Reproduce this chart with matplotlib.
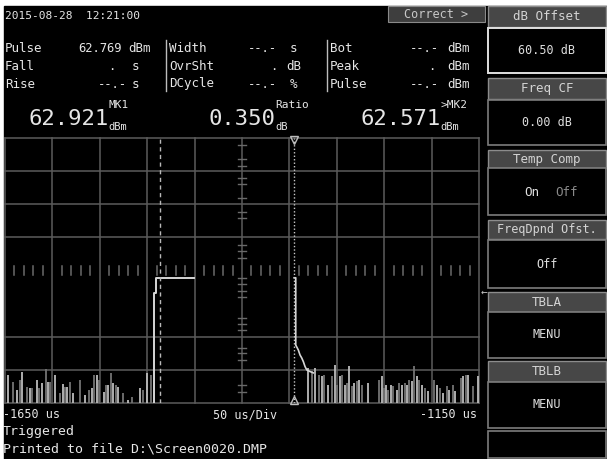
import matplotlib
matplotlib.use("Agg")
import matplotlib.pyplot as plt
from matplotlib.patches import Rectangle

# time axis (us) and vertical scale in divisions (0 = bottom, 8 = top)
x_start, x_end = -1650, -1150
us_per_div = 50

# noise floor before the pulse: bar position (us) and peak height (div)
noise_left_x = [-1646.5, -1641.9, -1637.0, -1634.2, -1631.8, -1626.5, -1623.6, -1621.2,
                -1616.6, -1613.8, -1611.3, -1607.1, -1605.0, -1602.5, -1597.3, -1592.0,
                -1589.1, -1586.7, -1584.3, -1581.4, -1578.6, -1570.9, -1565.6, -1561.1,
                -1558.5, -1555.8, -1553.3, -1550.5, -1545.6, -1543.5, -1541.0, -1538.2,
                -1535.8, -1532.9, -1530.5, -1525.8, -1519.9, -1516.3, -1507.6, -1504.7,
                -1499.9, -1495.5]
noise_left_h = [0.85, 0.64, 0.39, 0.69, 0.95, 0.49, 0.44, 0.44,
                0.69, 0.44, 0.59, 1.02, 0.64, 0.64, 0.85, 0.29,
                0.57, 0.49, 0.49, 0.64, 0.29, 0.69, 0.24, 0.39,
                0.44, 0.85, 0.85, 0.69, 0.34, 0.54, 0.54, 0.92,
                0.59, 0.54, 0.49, 0.31, 0.09, 0.19, 0.44, 0.39,
                0.90, 0.85]

# noise floor after the pulse
noise_right_x = [-1330.1, -1326.5, -1323.0, -1318.4, -1315.9, -1313.2, -1308.9, -1305.4,
                 -1301.9, -1299.5, -1296.6, -1294.8, -1291.3, -1289.5, -1286.8, -1284.3,
                 -1281.8, -1279.0, -1276.2, -1273.7, -1266.8, -1255.1, -1252.6, -1250.2,
                 -1248.1, -1245.7, -1243.1, -1240.4, -1236.8, -1234.1, -1231.5, -1228.0,
                 -1226.3, -1223.5, -1221.0, -1218.2, -1215.7, -1213.0, -1210.4, -1206.9,
                 -1203.5, -1197.1, -1194.6, -1191.1, -1187.6, -1184.1, -1181.3, -1177.7,
                 -1175.3, -1169.3, -1166.5, -1163.7, -1161.3, -1156.0, -1150.7]
noise_right_h = [1.06, 0.96, 1.06, 0.86, 0.81, 0.86, 0.55, 0.81,
                 1.16, 0.55, 0.81, 0.86, 0.55, 0.60, 1.11, 0.50,
                 0.60, 0.65, 0.70, 0.55, 0.60, 0.70, 0.81, 0.45,
                 0.55, 0.40, 0.55, 0.50, 0.40, 0.60, 0.55, 0.60,
                 0.55, 0.70, 0.65, 1.11, 0.81, 0.70, 0.55, 0.45,
                 0.35, 0.70, 0.55, 0.45, 0.30, 0.50, 0.40, 0.55,
                 0.35, 0.75, 0.81, 0.86, 0.86, 0.50, 0.81]

# pulse rising edge + top, and falling edge with its decay tail
rise_x = [-1492.5, -1492.5, -1490.7, -1490.7, -1450.3]
rise_y = [0.0, 3.32, 3.32, 3.78, 3.78]
fall_x = [-1345.0, -1343.3, -1343.3, -1340.6, -1338.8, -1337.0, -1335.3, -1333.5,
          -1331.7, -1328.3, -1324.8]
fall_y = [3.78, 3.78, 1.75, 1.60, 1.45, 1.36, 1.25, 1.10, 1.00, 0.95, 0.91]

mk1_x = -1486.5
mk2_x = -1345.0

# minor ticks on the centre vertical axis (div)
center_ticks = [7.79, 7.37, 7.16, 6.80, 6.62, 6.19, 5.77, 5.59, 4.77, 4.59, 4.38,
                3.78, 3.60, 3.38, 3.20, 2.57, 2.39, 2.21, 1.66, 1.51, 1.30, 0.54, 0.33]
grid_rows = [0, 1, 2, 5, 6, 7, 8]

MONO = "DejaVu Sans Mono"
FG = "#e6e6e6"
GRID = "#5c5c5c"

fig = plt.figure(figsize=(6.07, 4.59), dpi=100, facecolor="white")

# screen layer in pixel coordinates
ui = fig.add_axes([0, 0, 1, 1])
ui.set_xlim(0, 607)
ui.set_ylim(459, 0)
ui.axis("off")
ui.add_patch(Rectangle((4, 6), 603, 453, color="black", zorder=0))


def txt(x, y, s, size=9, color=FG, ha="left", **kw):
    ui.text(x, y, s, fontsize=size, color=color, ha=ha, va="center",
            fontfamily=MONO, **kw)


def box(x0, y0, x1, y1, fill="black", edge="#7c7c7c", lw=1.2):
    ui.add_patch(Rectangle((x0, y0), x1 - x0, y1 - y0, facecolor=fill,
                           edgecolor=edge, linewidth=lw, zorder=1))


# header line
txt(5, 16, "2015-08-28  12:21:00", size=8)
box(388, 6, 485, 22, fill="#3e3e3e", edge="#8a8a8a", lw=0.8)
txt(436, 14, "Correct >", size=8.5, color="#c8c8c8", ha="center")

# measurement table
rows_y = [48, 66, 84]
col1 = [("Pulse", "62.769", 78, "dBm", 128), ("Fall", ".", 108, "s", 132),
        ("Rise", "--.-", 98, "s", 132)]
col2 = [("Width", "--.-", 248, "s", 290), ("OvrSht", ".", 270, "dB", 286),
        ("DCycle", "--.-", 248, "%", 290)]
col3 = [("Bot", "--.-", 410, "dBm", 447), ("Peak", ".", 428, "dBm", 447),
        ("Pulse", "--.-", 410, "dBm", 447)]
for y, a, b, c in zip(rows_y, col1, col2, col3):
    for (lab, val, vx, unit, ux), lx in ((a, 5), (b, 169), (c, 330)):
        txt(lx, y, lab)
        txt(vx, y, val, size=8.7)
        txt(ux, y, unit)
for sx in (166, 327):
    ui.plot([sx, sx], [40, 91], color="#bdbdbd", lw=1)

# big marker readouts
for x, val, sup, sub in ((28, "62.921", "MK1", "dBm"), (208, "0.350", "Ratio", "dB"),
                         (360, "62.571", ">MK2", "dBm")):
    ui.text(x, 119, val, fontsize=16, color=FG, fontfamily=MONO, va="center")
    end = x + len(val) * 13.3
    txt(end + 1, 105, sup, size=8)
    txt(end + 1, 127, sub, size=7.5)

# trace area
ax = fig.add_axes([5 / 607, (459 - 403) / 459, 474 / 607, 265 / 459])
ax.set_xlim(x_start, x_end)
ax.set_ylim(0, 8)
ax.axis("off")
ax.patch.set_alpha(0)

for gx in range(x_start, x_end + 1, us_per_div):
    ax.plot([gx, gx], [0, 8], color=GRID, lw=1.1, clip_on=False)
for gy in grid_rows:
    ax.plot([x_start, x_end], [gy, gy], color=GRID, lw=1.1, clip_on=False)
centre_x = (x_start + x_end) / 2
for d in range(x_start, x_end, us_per_div):
    for k in range(1, 5):
        tx = d + k * us_per_div / 5
        ax.plot([tx, tx], [3.85, 4.15], color="#6a6a6a", lw=1.1)
for ty in center_ticks:
    ax.plot([centre_x - 4.5, centre_x + 4.5], [ty, ty], color="#6a6a6a", lw=1.0)

noise_x = noise_left_x + noise_right_x
noise_h = noise_left_h + noise_right_h
colors = ["#bcbcbc" if i % 2 == 0 else "#747474" for i in range(len(noise_x))]
ax.vlines(noise_x, 0, noise_h, colors=colors, lw=1.3)

ax.plot(rise_x, rise_y, color="#d6d6d6", lw=1.4)
ax.plot(fall_x, fall_y, color="#d6d6d6", lw=1.2)

ax.plot([mk1_x, mk1_x], [0, 8], color="#b8b8b8", lw=1, ls=(0, (3, 2.5)))
ax.plot([mk2_x, mk2_x], [0, 8], color="#c8c8c8", lw=1, ls=(0, (1, 1.5)))
ax.plot([mk2_x], [7.93], marker="v", ms=6, mfc="none", mec="#bdbdbd", mew=1, clip_on=False)
ax.plot([mk2_x], [0.1], marker="^", ms=6, mfc="none", mec="#bdbdbd", mew=1, clip_on=False)

# scale labels
txt(3, 415, "-1650 us", size=8.5)
txt(245, 415, "50 us/Div", size=8.5, ha="center")
txt(477, 415, "-1150 us", size=8.5, ha="right")
txt(3, 432, "Triggered", size=9.5)
txt(3, 449, "Printed to file D:\\Screen0020.DMP", size=9.5)

# softkey panel
px0, px1 = 488, 606
HEAD = "#474747"
heads = [("dB Offset", 6, 27), ("Freq CF", 78, 99), ("Temp Comp", 150, 168),
         ("FreqDpnd Ofst.", 220, 239), ("TBLA", 292, 312), ("TBLB", 361, 382)]
for lab, y0, y1 in heads:
    box(px0, y0, px1, y1, fill=HEAD, edge="#8c8c8c", lw=1)
    txt((px0 + px1) / 2, (y0 + y1) / 2, lab, size=8.5 if len(lab) > 10 else 9,
        color="#d4d4d4", ha="center")
bodies = [("60.50 dB", 28, 73), ("0.00 dB", 100, 145), ("", 168, 215),
          ("Off", 240, 288), ("MENU", 312, 358), ("MENU", 382, 428), ("", 431, 458)]
for i, (lab, y0, y1) in enumerate(bodies):
    box(px0, y0, px1, y1, edge="#e0e0e0" if i == 0 else "#7c7c7c", lw=1.4 if i == 0 else 1.2)
    if lab:
        txt((px0 + px1) / 2, (y0 + y1) / 2, lab, size=8.5, color="#dedede", ha="center")
txt(532, 192, "On", size=9, color="#e0e0e0", ha="center")
txt(566, 192, "Off", size=9, color="#8a8a8a", ha="center")
txt(484, 293, "\u2190", size=8, color="#c0c0c0", ha="center")

fig.savefig("out.png", dpi=100, facecolor="white")
